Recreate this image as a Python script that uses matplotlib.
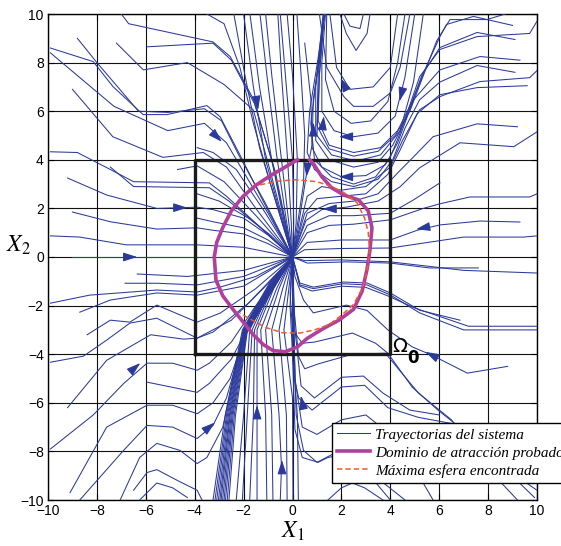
import numpy as np
import matplotlib.pyplot as plt

# colours
BLUE = '#2b3a9a'
MAGENTA = '#b0409c'
ORANGE = '#f05a28'

# ---- trajectories ----
# lines coming down from the upper-left and the top edge into the origin
traj_upper_left = [
    [(-9.9, 8.6), (-8.15, 8.04), (-7.34, 7.01), (-6.11, 5.86), (-5.13, 5.86), (-3.5, 6.23), (-2.96, 5.77), (-2.2, 4.3), (-1.2, 2.3), (0, 0)],
    [(-9.9, 8.4), (-7.3, 6.2), (-5.1, 5.2), (-3.6, 5.5), (-2.7, 4.7), (-2.0, 3.5), (-1.0, 1.8), (0, 0)],
    [(-8.8, 9.0), (-8.0, 8.0), (-6.3, 6.0), (-5.1, 5.95), (-3.6, 6.1), (-2.9, 5.6), (-2.2, 4.2), (-1.1, 2.2), (0, 0)],
    [(-7.2, 8.8), (-6.1, 7.7), (-4.3, 8.0), (-2.8, 7.1), (-1.6, 6.05), (-0.9, 3.5), (0, 0)],
    [(-7.0, 10.0), (-6.7, 9.6), (-3.25, 8.85), (-2.55, 8.25), (-1.6, 6.5), (-0.8, 3.8), (0, 0)],
    [(-5.95, 8.65), (-3.25, 8.8), (-2.5, 8.1), (-1.55, 6.3), (-0.7, 3.5), (0, 0)],
    [(-9.0, 6.9), (-7.35, 4.95), (-5.3, 4.1), (-3.65, 4.3), (-2.7, 3.7), (-1.5, 2.0), (0, 0)],
    [(-3.9, 4.5), (-3.25, 4.3), (-2.3, 3.6), (-1.1, 1.8), (0, 0)],
    [(-4.7, 3.6), (-3.9, 3.75), (-2.8, 3.1), (-1.4, 1.6), (0, 0)],
    [(-3.5, 10.0), (-2.8, 9.6), (-2.15, 7.8), (-1.6, 5.5), (-0.9, 3.0), (0, 0)],
    [(-2.4, 10.0), (-1.95, 7.5), (-1.35, 4.5), (-0.6, 2.0), (0, 0)],
    [(-2.0, 10.0), (-1.6, 7.0), (-1.1, 4.0), (-0.45, 1.6), (0, 0)],
    [(-1.74, 10.0), (-1.35, 7.0), (-0.85, 4.0), (-0.35, 1.5), (0, 0)],
    [(-1.33, 10.0), (-1.05, 7.5), (-0.65, 4.2), (-0.25, 1.5), (0, 0)],
    [(-1.1, 10.0), (-0.85, 7.5), (-0.45, 4.0), (-0.15, 1.4), (0, 0)],
    [(-0.6, 10.0), (-0.45, 7.5), (-0.2, 4.0), (-0.05, 1.4), (0, 0)],
    [(-0.5, 10.0), (-0.25, 7.0), (0.0, 4.0), (0.05, 1.4), (0, 0)],
    [(-0.22, 10.0), (0.0, 7.5), (0.2, 4.0), (0.15, 1.4), (0, 0)],
    [(0.18, 10.0), (0.35, 7.5), (0.5, 5.0), (0.45, 3.0), (0, 0)],
    [(0.5, 8.8), (0.75, 6.5), (0.8, 4.6), (0.6, 3.6), (0.2, 1.0), (0, 0)],
]

# lines entering from the left side
traj_left = [
    [(-9.9, 4.33), (-8.8, 4.3), (-7.45, 3.6), (-6.5, 3.1), (-3.4, 3.05), (-2.7, 2.5), (-1.4, 1.3), (0, 0)],
    [(-7.45, 3.7), (-6.5, 2.9), (-3.4, 2.85), (-2.6, 2.3), (-1.3, 1.2), (0, 0)],
    [(-9.2, 3.25), (-7.6, 2.55), (-5.55, 2.0), (-3.9, 2.05), (-3.25, 1.95), (-2.0, 1.6), (-1.0, 0.9), (0, 0)],
    [(-9.0, 1.85), (-7.45, 1.45), (-5.55, 1.15), (-3.9, 1.2), (-3.25, 1.1), (-2.0, 0.95), (-1.0, 0.55), (0, 0)],
    [(-3.9, 1.6), (-3.25, 1.45), (-2.0, 1.2), (-1.0, 0.7), (0, 0)],
    [(-3.9, 2.6), (-3.0, 2.3), (-1.8, 1.6), (-0.9, 0.9), (0, 0)],
    [(-9.9, 0.87), (-8.7, 0.82), (-6.8, 0.5), (-3.9, 0.5), (-2.0, 0.4), (0, 0)],
    [(-9.0, 0.0), (-3.9, 0.0), (0, 0)],
    [(-6.35, -0.7), (-4.3, -0.8), (-2.0, -0.55), (0, 0)],
    [(-6.85, -1.08), (-5.55, -1.08), (-3.9, -1.15), (-2.0, -0.8), (0, 0)],
    [(-9.9, -1.9), (-8.3, -1.57), (-5.55, -1.36), (-3.9, -1.44), (-2.96, -1.24), (-1.5, -0.8), (0, 0)],
    [(-8.7, -2.27), (-7.45, -1.77), (-5.55, -1.48), (-3.9, -1.57), (-2.0, -1.2), (0, 0)],
    [(-8.4, -3.2), (-7.45, -2.6), (-6.65, -2.68), (-5.55, -1.98), (-3.9, -2.68), (-2.96, -2.31), (-1.5, -1.3), (0, 0)],
    [(-9.9, -4.33), (-8.55, -4.08), (-7.6, -3.42), (-6.65, -2.72), (-5.55, -2.52), (-3.9, -3.34), (-3.25, -3.09), (-1.8, -1.9), (0, 0)],
    [(-9.2, -6.2), (-7.6, -4.25), (-5.8, -3.2), (-4.45, -3.38), (-3.9, -3.34), (-2.5, -2.6), (-1.2, -1.3), (0, 0)],
    [(-9.9, -7.9), (-8.15, -6.5), (-6.9, -5.2), (-5.95, -4.37), (-4.9, -4.37), (-3.9, -4.66), (-3.4, -4.37), (-2.5, -3.5), (-1.5, -2.0), (0, 0)],
    [(-5.95, -5.15), (-3.9, -5.57), (-3.4, -5.2), (-2.5, -4.2), (-1.6, -2.5), (0, 0)],
    [(-9.1, -9.7), (-7.6, -7.0), (-5.95, -6.1), (-4.9, -6.1), (-3.9, -6.45), (-3.25, -6.0), (-2.55, -5.0), (-1.95, -3.2), (0, 0)],
    [(-8.7, -10.0), (-6.9, -7.95), (-5.95, -6.93), (-4.9, -7.0), (-3.9, -7.47), (-3.25, -6.93), (-2.7, -5.8), (-2.0, -3.3), (0, 0)],
    [(-7.05, -10.0), (-6.25, -8.25), (-5.55, -7.67), (-4.6, -7.96), (-3.9, -8.5), (-3.5, -8.25), (-2.85, -7.0), (-2.1, -3.5), (0, 0)],
    [(-6.5, -9.6), (-5.95, -8.87), (-5.55, -8.75), (-4.7, -9.2), (-3.9, -9.6), (-3.7, -10.0)],
    [(-6.25, -10.0), (-5.55, -9.3), (-4.9, -9.5), (-4.3, -9.9)],
]

# dense fan coming up from the bottom edge
traj_bottom = [
    [(-3.25, -10.0), (-2.75, -6.5), (-2.05, -3.0), (-0.9, -1.0), (0, 0)],
    [(-3.17, -10.0), (-2.7, -6.5), (-2.02, -3.0), (-0.9, -1.05), (0, 0)],
    [(-3.1, -10.0), (-2.66, -6.5), (-2.0, -3.0), (-0.88, -1.05), (0, 0)],
    [(-3.03, -10.0), (-2.62, -6.5), (-1.98, -3.0), (-0.87, -1.1), (0, 0)],
    [(-2.97, -10.0), (-2.58, -6.5), (-1.96, -3.0), (-0.86, -1.1), (0, 0)],
    [(-2.92, -10.0), (-2.55, -6.5), (-1.94, -3.0), (-0.85, -1.12), (0, 0)],
    [(-2.86, -10.0), (-2.51, -6.5), (-1.92, -3.0), (-0.84, -1.14), (0, 0)],
    [(-2.8, -10.0), (-2.47, -6.5), (-1.9, -3.0), (-0.83, -1.15), (0, 0)],
    [(-2.74, -10.0), (-2.43, -6.5), (-1.88, -3.0), (-0.82, -1.16), (0, 0)],
    [(-2.67, -10.0), (-2.38, -6.5), (-1.86, -3.0), (-0.81, -1.18), (0, 0)],
    [(-2.6, -10.0), (-2.33, -6.5), (-1.84, -3.0), (-0.8, -1.2), (0, 0)],
    [(-2.3, -10.0), (-2.0, -6.5), (-1.75, -3.0), (-0.9, -1.2), (0, 0)],
    [(-2.05, -10.0), (-1.85, -6.5), (-1.65, -3.0), (-0.85, -1.2), (0, 0)],
    [(-1.75, -10.0), (-1.6, -6.5), (-1.55, -3.0), (-0.8, -1.2), (0, 0)],
    [(-1.45, -10.0), (-1.45, -6.5), (-1.45, -3.0), (-0.75, -1.25), (0, 0)],
    [(-1.05, -10.0), (-1.1, -6.5), (-1.3, -3.0), (-0.65, -1.3), (0, 0)],
    [(-0.8, -10.0), (-0.85, -6.5), (-1.1, -3.0), (-0.55, -1.3), (0, 0)],
    [(-0.5, -10.0), (-0.45, -8.66), (-0.55, -6.5), (-0.85, -3.0), (-0.4, -1.3), (0, 0)],
    [(-0.22, -10.0), (-0.25, -6.5), (-0.55, -3.0), (-0.25, -1.3), (0, 0)],
    [(0.02, -10.0), (0.0, -5.8), (-0.35, -3.0), (-0.15, -1.3), (0, 0)],
    [(0.24, -10.0), (0.2, -6.5), (0.0, -4.0), (-0.1, -2.0), (0, 0)],
]

# U-shaped orbits in the upper half, leaving through the top
traj_upper_u = [
    [(2.9, 10.0), (2.76, 9.4), (2.35, 9.5), (2.1, 10.0)],
    [(3.17, 10.0), (3.05, 9.2), (2.6, 8.5), (2.2, 9.2), (1.94, 10.0)],
    [(4.3, 10.0), (4.0, 7.8), (3.3, 7.0), (2.35, 6.9), (1.8, 7.8), (1.53, 10.0)],
    [(4.8, 10.0), (4.4, 7.8), (4.0, 6.75), (3.3, 6.2), (2.5, 6.2), (2.1, 6.6), (1.4, 7.8), (1.1, 10.0)],
    [(5.35, 10.0), (4.95, 7.2), (4.4, 5.2), (3.6, 4.2), (2.6, 3.95), (1.6, 4.2), (1.0, 5.0), (1.1, 7.5), (1.3, 10.0)],
    [(5.0, 10.0), (4.6, 7.4), (4.2, 5.8), (3.5, 5.1), (2.5, 4.95), (1.7, 5.2), (1.2, 6.0), (1.2, 8.0), (1.35, 10.0)],
    [(4.6, 10.0), (4.3, 8.0), (3.9, 6.4), (3.2, 5.6), (2.4, 5.5), (1.7, 6.0), (1.35, 7.3), (1.4, 10.0)],
]

# lines entering from the right side
traj_right = [
    [(10.0, 9.7), (9.7, 9.2), (7.55, 9.07), (6.03, 8.54), (5.2, 7.42), (4.4, 5.1), (4.0, 4.1), (3.4, 3.3), (2.5, 3.0), (1.6, 3.3), (0.9, 4.0), (0.75, 5.5), (1.0, 7.5), (1.3, 10.0)],
    [(9.1, 8.95), (7.55, 9.24), (6.03, 8.62), (5.3, 7.5), (4.6, 5.6), (4.1, 4.6), (3.5, 3.9), (2.5, 3.7), (1.5, 4.0), (0.95, 4.8), (0.95, 7.0), (1.25, 10.0)],
    [(9.0, 9.53), (7.4, 9.9), (6.3, 9.57), (6.03, 9.07), (5.5, 7.9), (4.9, 6.4), (4.3, 5.2), (3.6, 4.5), (2.5, 4.3), (1.5, 4.6), (1.05, 5.6), (1.1, 7.5), (1.3, 10.0)],
    [(8.7, 10.0), (7.95, 9.77), (6.44, 9.77), (5.9, 8.9), (5.4, 7.6), (4.8, 6.0), (4.2, 5.0), (3.5, 4.35), (2.5, 4.15), (1.5, 4.45), (1.0, 5.4), (1.05, 7.5), (1.3, 10.0)],
    [(9.3, 8.1), (7.67, 8.25), (6.03, 7.7), (4.95, 6.47), (4.3, 4.7), (3.8, 3.8), (3.0, 3.35), (2.0, 3.3), (1.2, 3.7), (0.8, 4.5), (0.85, 6.5), (1.15, 8.5), (1.3, 10.0)],
    [(9.1, 7.6), (7.55, 7.88), (6.03, 7.2), (5.2, 6.47), (4.6, 5.3), (4.1, 4.0), (3.5, 3.2), (2.5, 2.9), (1.6, 3.1), (0.9, 3.6), (0.6, 4.3), (0.7, 6.0), (1.05, 8.2), (1.3, 10.0)],
    [(10.0, 7.67), (9.7, 7.38), (7.67, 7.22), (6.03, 6.6), (5.2, 6.06), (4.5, 4.8), (4.0, 3.7), (3.0, 2.9), (2.0, 2.75), (1.2, 2.9), (0.6, 2.5), (0, 0)],
    [(9.6, 7.05), (7.55, 6.97), (6.03, 6.68), (5.1, 5.9), (4.4, 4.4), (3.9, 3.4), (3.0, 2.6), (2.0, 2.5), (1.0, 2.4), (0.5, 1.8), (0, 0)],
    [(9.2, 5.36), (7.55, 5.48), (5.75, 4.95), (4.95, 4.12), (4.3, 3.46), (3.5, 2.6), (2.5, 2.3), (1.5, 2.2), (0.6, 1.8), (0, 0)],
    [(10.0, 5.15), (9.05, 4.54), (6.85, 4.7), (5.2, 3.67), (4.4, 2.89), (3.5, 2.3), (2.2, 2.05), (1.2, 1.95), (0.55, 1.5), (0, 0)],
    [(6.03, 3.05), (4.95, 2.35), (4.0, 1.8), (2.5, 1.7), (1.5, 1.7), (0.6, 1.3), (0, 0)],
    [(10.0, 2.6), (9.7, 2.47), (7.26, 2.47), (6.03, 2.19), (5.35, 2.0), (4.0, 1.53), (2.5, 1.35), (1.5, 1.3), (0.6, 1.0), (0, 0)],
    [(9.3, 1.44), (7.67, 1.48), (6.03, 1.32), (5.1, 1.1), (4.0, 0.7), (2.0, 0.7), (0.6, 0.6), (0, 0)],
    [(10.0, 0.87), (9.45, 0.82), (7.0, 0.82), (4.0, 0.37), (2.0, 0.35), (0.5, 0.3), (0, 0)],
    [(7.6, -0.45), (5.6, -0.45), (4.0, -0.25), (2.2, -0.2), (0.6, -0.25), (0, 0)],
    [(10.0, -0.66), (7.0, -0.55), (4.0, -0.2), (2.0, -0.12), (0.5, -0.15), (0, 0)],
]

# lines in the lower right quadrant
traj_lower_right = [
    [(6.85, -2.6), (5.2, -2.19), (4.0, -1.48), (3.05, -1.07), (2.07, -1.03), (0.85, -1.24), (0.3, -1.07), (0, 0)],
    [(10.0, -3.0), (7.0, -3.0), (5.2, -2.3), (4.0, -1.56), (3.05, -1.15), (2.07, -1.1), (0.85, -1.3), (0.3, -1.15), (0, 0)],
    [(10.0, -2.85), (7.2, -2.85), (5.0, -2.1), (3.9, -1.6), (3.0, -1.25), (2.0, -1.2), (0.8, -1.4), (0.3, -1.2), (0, 0)],
    [(9.9, -9.9), (7.35, -7.42), (5.95, -6.3), (4.9, -5.36), (3.9, -3.96), (3.4, -3.55), (2.45, -3.13), (0.9, -3.5), (0.4, -3.55), (0.0, -3.0), (-0.1, -1.5), (0, 0)],
    [(8.8, -4.5), (7.15, -4.78), (5.7, -4.04), (4.9, -3.7), (3.9, -3.0), (3.05, -2.2), (2.2, -1.98), (0.85, -2.3), (0.45, -1.77), (0.1, -0.8), (0, 0)],
    [(9.2, -10.0), (7.8, -8.5), (6.5, -6.7), (5.15, -5.6), (3.8, -3.96), (2.45, -4.0), (1.05, -4.4), (0.5, -4.6), (0.25, -4.1), (0.05, -2.0), (0, 0)],
    [(10.0, -9.6), (8.0, -8.2), (6.5, -6.85), (5.15, -6.6), (3.9, -6.2), (2.95, -5.28), (2.0, -5.35), (0.8, -6.3), (0.25, -5.8), (0.1, -5.1), (0.05, -2.5), (0, 0)],
    [(6.0, -6.5), (4.8, -6.3), (3.7, -5.6), (2.9, -4.9), (2.0, -4.95), (0.9, -5.8), (0.35, -5.3), (0.1, -3.0), (0, 0)],
    [(4.6, -10.0), (3.6, -9.2), (2.64, -8.5), (1.94, -7.96), (1.0, -8.45), (0.45, -7.96), (0.15, -6.5), (0.05, -3.0), (0, 0)],
    [(3.7, -10.0), (2.95, -9.5), (2.45, -9.3), (2.0, -9.5), (1.45, -10.0)],
    [(4.0, -10.0), (3.0, -8.8), (2.2, -8.1), (1.45, -8.25), (1.05, -8.45), (0.4, -8.25), (0.1, -7.1), (0.0, -4.0), (0, 0)],
    [(5.75, -10.0), (5.0, -8.7), (4.0, -7.3), (3.0, -6.5), (2.0, -6.7), (1.0, -7.3), (0.4, -7.0), (0.1, -5.0), (0, 0)],
]

# domain of attraction (magenta) and largest sphere (dashed)
domain_x = [0.2, -0.3, -0.9, -1.5, -2.02, -2.5, -2.84, -3.1, -3.2, -3.13, -2.85, -2.4, -2.0, -1.6, -1.2, -0.8, -0.3, 0.2, 0.6, 1.25, 1.9, 2.5, 2.85, 3.05, 3.17, 3.25, 3.1, 2.7, 2.1, 1.6, 1.2, 0.85, 0.7]
domain_y = [4.0, 3.7, 3.35, 2.95, 2.5, 1.9, 1.24, 0.6, 0.0, -0.95, -1.6, -2.2, -2.7, -3.2, -3.6, -3.85, -3.9, -3.7, -3.35, -2.95, -2.6, -2.15, -1.4, -0.5, 0.3, 1.2, 1.9, 2.35, 2.55, 2.85, 3.3, 3.85, 4.0]
sphere_x = [-1.33, -0.6, 0.1, 1.0, 1.6, 2.1, 2.64, 2.95, 3.1, 3.15, 3.05, 2.85, 2.5, 2.0, 1.5, 0.9, 0.3, -0.4, -1.1, -1.74, -2.15]
sphere_y = [2.97, 3.12, 3.18, 3.1, 2.9, 2.65, 2.23, 1.6, 1.0, 0.3, -0.6, -1.3, -1.95, -2.4, -2.78, -3.0, -3.13, -3.12, -2.9, -2.55, -2.31]

# region Omega_0
omega_x = [-4, 4, 4, -4, -4]
omega_y = [-4, -4, 4, 4, -4]

# arrowheads: position and direction
arrow_x = [-1.45, -3.1, -4.6, -6.65, -6.45, -3.4, -1.45, -0.43, 0.4, 5.7, 5.35, 1.53, 2.2, 2.2, 2.1, 0.85, 1.25, 0.6, 4.45]
arrow_y = [6.35, 4.95, 2.03, 0.0, -4.56, -7.0, -6.4, -8.66, -6.0, -4.04, 1.2, 1.98, 3.3, 4.95, 7.1, 5.24, 5.5, 3.6, 6.7]
arrow_dx = [0.15, 0.7, 1.0, 1.0, 0.95, 0.65, 0.0, 0.0, -0.2, -1.45, -1.0, -1.0, -1.0, -1.0, -0.5, 0.0, 0.1, -0.1, -0.25]
arrow_dy = [-1.0, -0.7, 0.0, 0.0, 0.83, 0.54, 1.0, 1.0, 1.0, 0.74, -0.2, 0.0, 0.0, 0.0, 1.0, 1.0, 1.0, -1.0, -1.0]

ticks = np.arange(-10, 11, 2)

plt.rcParams['mathtext.fontset'] = 'stix'
plt.rcParams['font.family'] = 'Liberation Sans'

fig = plt.figure(figsize=(5.61, 5.46), dpi=100)
ax = fig.add_axes([48 / 561, 1 - 500 / 546, 489 / 561, 486 / 546])

groups = [traj_upper_left, traj_left, traj_bottom, traj_upper_u, traj_right, traj_lower_right]
first = True
for group in groups:
    for tr in group:
        pts = np.array(tr)
        ax.plot(pts[:, 0], pts[:, 1], color=BLUE, lw=0.75, zorder=3,
                label='Trayectorias del sistema' if first else None)
        first = False

for x, y, dx, dy in zip(arrow_x, arrow_y, arrow_dx, arrow_dy):
    n = np.hypot(dx, dy)
    ax.annotate('', xy=(x + 0.3 * dx / n, y + 0.3 * dy / n), xytext=(x - 0.05 * dx / n, y - 0.05 * dy / n),
                arrowprops=dict(arrowstyle='-|>,head_length=0.85,head_width=0.27', color=BLUE, lw=0.8,
                                shrinkA=0, shrinkB=0), zorder=4)

ax.plot(omega_x, omega_y, color='#1a1a1a', lw=2.4, zorder=5)
ax.plot(domain_x, domain_y, color=MAGENTA, lw=2.6, zorder=6, label='Dominio de atracción probado')
ax.plot(sphere_x, sphere_y, color=ORANGE, lw=1.1, ls=(0, (3.5, 2)), zorder=7, label='Máxima esfera encontrada')

ax.text(4.1, -3.9, 'Ω', fontsize=14, family='DejaVu Sans', zorder=8)
ax.text(4.68, -4.38, '0', fontsize=12, fontweight='bold', family='DejaVu Sans', zorder=8)

ax.set_xlim(-10, 10)
ax.set_ylim(-10, 10)
ax.set_xticks(ticks)
ax.set_yticks(ticks)
ax.tick_params(direction='in', top=True, right=True, length=4, labelsize=10, pad=3)
ax.grid(True, color='#111111', lw=0.8)
ax.set_axisbelow(True)
for s in ax.spines.values():
    s.set_linewidth(1.0)

ax.set_xlabel(r'$X_{\mathit{1}}$', fontsize=17, labelpad=1)
ax.set_ylabel(r'$X_{\mathit{2}}$', fontsize=17, rotation=0, labelpad=12)
ax.yaxis.set_label_coords(-0.06, 0.50)

leg = ax.legend(loc='upper left', bbox_to_anchor=(0.581, 0.158), borderaxespad=0,
                prop={'family': 'Liberation Serif', 'style': 'italic', 'size': 11},
                fancybox=False, framealpha=1, edgecolor='k', handlelength=2.15,
                handletextpad=0.35, labelspacing=0.28, borderpad=0.32)
leg.get_frame().set_linewidth(1.0)
leg.set_zorder(10)

fig.savefig('out.png', dpi=100)
